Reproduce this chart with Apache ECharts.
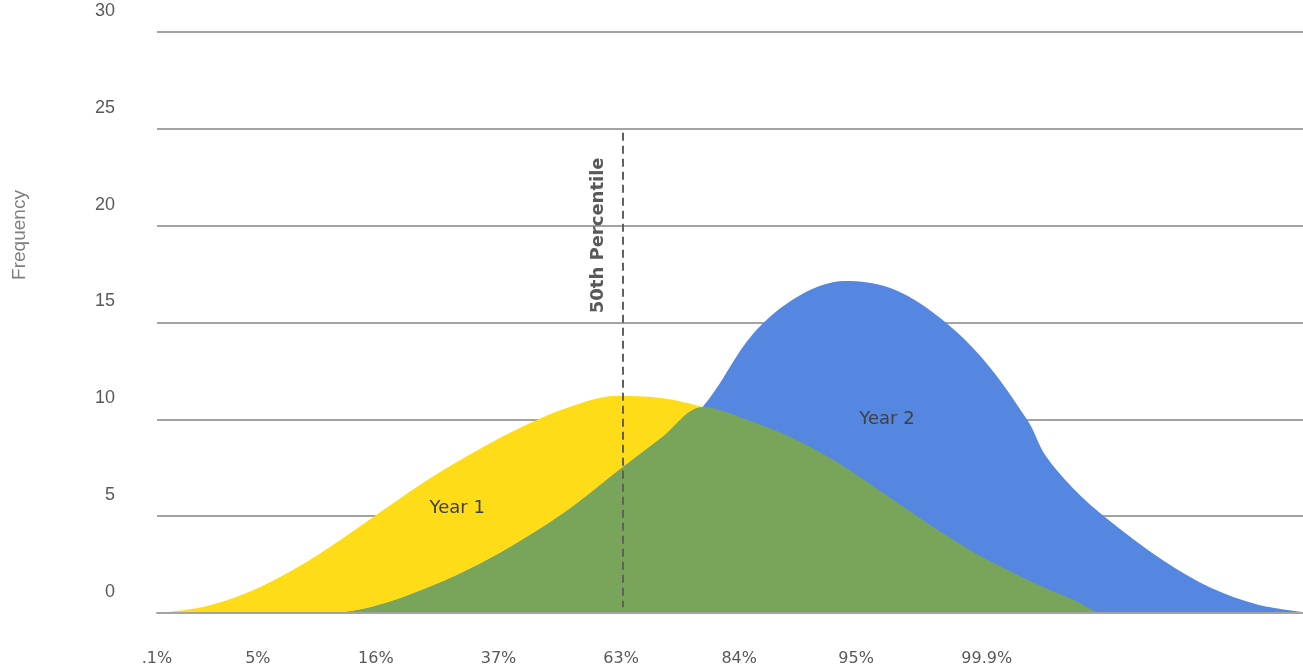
<!DOCTYPE html>
<html><head><meta charset="utf-8">
<script src="https://cdn.jsdelivr.net/npm/echarts@6/dist/echarts.min.js"></script>
<style>html,body{margin:0;padding:0;background:#fff}#c{width:1303px;height:670px}</style>
</head><body><div id="c"></div>
<script>
// sample positions along the percentile axis (axis units 0..100)
const xPositions = [0,4,8,12,16,20,24,28,32,36,40,44,47.6,52,56,60,64,68,72,76,77.5,80,82.6,88,92,96,100];
const year1 = [0,0.31,1.08,2.27,3.77,5.42,7.02,8.42,9.66,10.64,11.20,11.10,10.64,9.86,8.88,7.54,5.94,4.34,2.89,1.70,1.29,0.67,0,0,0,0,0];
const year2 = [0,0,0,0,0.03,0.52,1.39,2.48,3.82,5.37,7.23,9.04,10.64,14.41,16.37,17.14,16.78,15.39,13.17,9.91,8.16,6.40,5.01,2.63,1.29,0.44,0.05];
const tickLabels = ['.1%','5%','16%','37%','63%','84%','95%','99.9%'];
const tickPositions = [0,8.8,19.1,29.8,40.5,50.8,61.0,72.4];
const yTicks = [0,5,10,15,20,25,30];
const percentileX = 40.6;
const percentileRange = [0.3, 24.8];
const percentileLabelY = 19.5;
const year1LabelPos = [26.2, 5.4];
const year2LabelPos = [63.7, 10.0];

const pairs = arr => xPositions.map((x,i)=>[x,arr[i]]);
const overlap = xPositions.map((x,i)=>[x, Math.min(year1[i], year2[i])]);

const chart = echarts.init(document.getElementById('c'));
const gridColor = '#a3a3a3';
const SM = 0.33;
chart.setOption({
  animation:false,
  grid:{left:157,right:0,top:32,bottom:57,containLabel:false},
  xAxis:{type:'value',min:0,max:100,z:10,
    splitLine:{show:false},axisTick:{show:false},
    axisLine:{show:true,lineStyle:{color:gridColor,width:2}},
    axisLabel:{customValues:tickPositions,margin:38,fontFamily:'DejaVu Sans',fontSize:16,color:'#595959',
      formatter:v=>{const i=tickPositions.indexOf(v);return i>=0?tickLabels[i]:'';}}},
  yAxis:{type:'value',min:yTicks[0],max:yTicks[yTicks.length-1],interval:5,
    axisLine:{show:false},axisTick:{show:false},
    splitLine:{show:true,lineStyle:{color:gridColor,width:2}},
    axisLabel:{margin:42,fontFamily:'Liberation Sans',fontSize:18,color:'#595959',verticalAlign:'bottom',padding:[0,0,12,0]}},
  series:[
    {name:'Year 1',type:'line',data:pairs(year1),smooth:SM,symbol:'none',
     lineStyle:{width:0},areaStyle:{color:'#FFDC18',opacity:1},z:2},
    {name:'Year 2',type:'line',data:pairs(year2),smooth:SM,symbol:'none',
     lineStyle:{width:0},areaStyle:{color:'#5587E0',opacity:1},z:3},
    {name:'Overlap',type:'line',data:overlap,smooth:SM,symbol:'none',
     lineStyle:{width:0},areaStyle:{color:'#78A55A',opacity:1},z:4,
     markLine:{silent:true,symbol:'none',label:{show:false},
       lineStyle:{color:'#606060',width:2,type:[8,5]},
       data:[[{coord:[percentileX,percentileRange[1]]},{coord:[percentileX,percentileRange[0]]}]]},
     markPoint:{silent:true,symbol:'circle',symbolSize:0,
       label:{show:true,position:'inside',fontFamily:'DejaVu Sans',fontSize:18,color:'#404040'},
       data:[{coord:year1LabelPos,label:{formatter:'Year 1'}},{coord:year2LabelPos,label:{formatter:'Year 2'}}]}}
  ]
});
const p = chart.convertToPixel('grid',[percentileX,percentileLabelY]);
chart.setOption({graphic:[
  {type:'text',x:p[0]-24,y:p[1],rotation:Math.PI/2,
   style:{text:'50th Percentile',font:'bold 18px "DejaVu Sans"',fill:'#595959',align:'center',verticalAlign:'middle'}},
  {type:'text',x:20,y:235,rotation:Math.PI/2,
   style:{text:'Frequency',font:'19px "Liberation Sans"',fill:'#7f7f7f',align:'center',verticalAlign:'middle'}}
]});
</script></body></html>
